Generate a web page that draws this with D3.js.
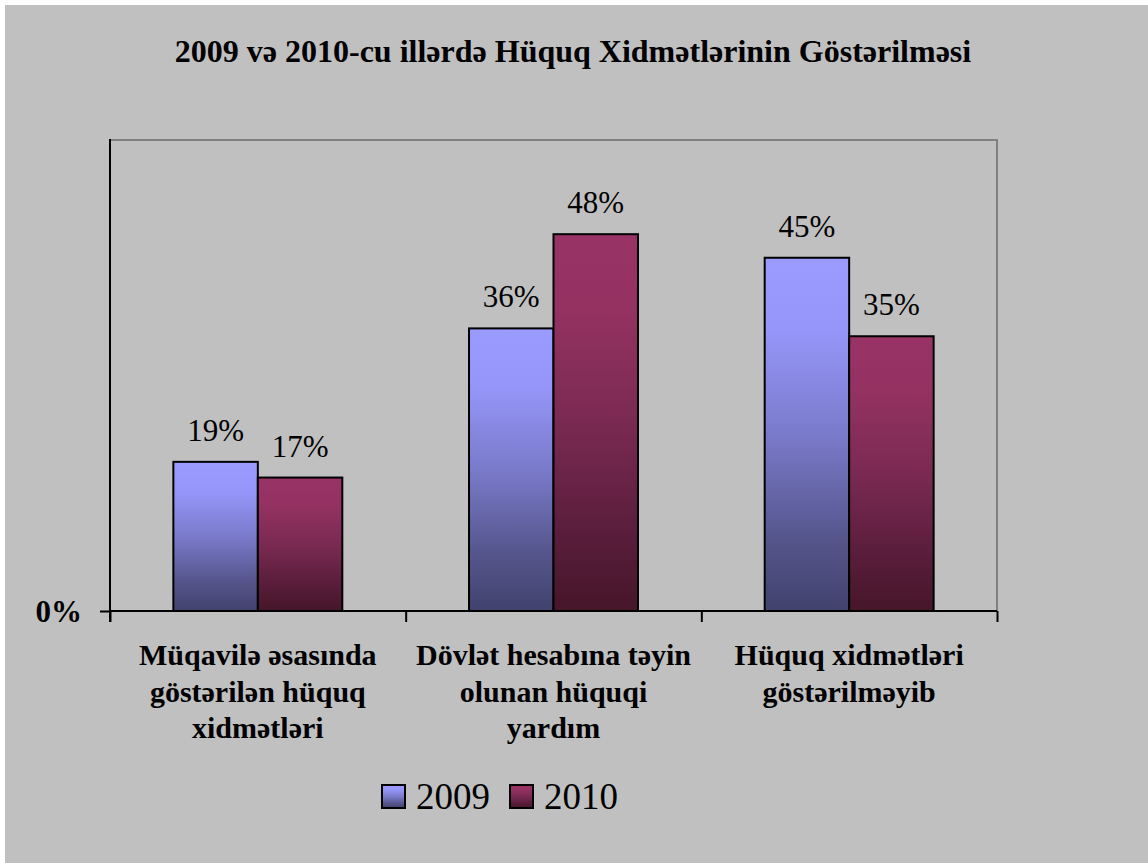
<!DOCTYPE html>
<html>
<head>
<meta charset="utf-8">
<script src="https://cdn.jsdelivr.net/npm/d3@7"></script>
<style>
  html, body { margin: 0; padding: 0; background: #ffffff; }
  svg { display: block; }
  svg text { font-family: "Liberation Serif", "Times New Roman", Tinos, serif; }
</style>
</head>
<body>
<script>
const title = "2009 və 2010-cu illərdə Hüquq Xidmətlərinin Göstərilməsi";
const categories = [
  ["Müqavilə əsasında", "göstərilən hüquq", "xidmətləri"],
  ["Dövlət hesabına təyin", "olunan hüquqi", "yardım"],
  ["Hüquq xidmətləri", "göstərilməyib"]
];
const seriesNames = ["2009", "2010"];
const values2009 = [0.19, 0.36, 0.45];
const values2010 = [0.17, 0.48, 0.35];
const yTickValues = [0];

(function () {
const W = 1148, H = 863;
const svg = d3.select("body").append("svg").attr("width", W).attr("height", H);

const defs = svg.append("defs");
function grad(id, stops) {
  const g = defs.append("linearGradient").attr("id", id)
    .attr("x1", 0).attr("y1", 0).attr("x2", 0).attr("y2", 1);
  stops.forEach(s => g.append("stop").attr("offset", s[0]).attr("stop-color", s[1]));
}
grad("g2009", [[0, "#9a9aff"], [0.2, "#9696fa"], [0.5, "#7a7acb"], [0.8, "#55558c"], [1, "#42426e"]]);
grad("g2010", [[0, "#993366"], [0.2, "#943262"], [0.5, "#7a2a52"], [0.8, "#591d3b"], [1, "#461629"]]);
const fills = ["url(#g2009)", "url(#g2010)"];

svg.append("rect").attr("x", 5).attr("y", 5).attr("width", W - 5).attr("height", H - 5).attr("fill", "#c0c0c0");

const pLeft = 110, pRight = 997, pTop = 140, pBottom = 611;
const catIdx = categories.map((c, i) => i);
const x0 = d3.scaleBand().domain(catIdx).range([pLeft, pRight]).paddingInner(0).paddingOuter(0);
const x1 = d3.scaleBand().domain(seriesNames).range([0, x0.bandwidth()]).paddingInner(0).paddingOuter(0.75);
const y = d3.scaleLinear().domain([0, 0.6]).range([pBottom, pTop]);

svg.append("path")
  .attr("d", `M${pLeft},${pTop}H${pRight}V${pBottom}`)
  .attr("fill", "none").attr("stroke", "#808080").attr("stroke-width", 2);

svg.append("text").attr("x", 573).attr("y", 62).attr("text-anchor", "middle")
  .style("font-weight", "bold").style("font-size", "32px").attr("fill", "#000")
  .text(title);

const data = catIdx.map(i => seriesNames.map((s, j) => ({ cat: i, s, j, v: j === 0 ? values2009[i] : values2010[i] })));
const groups = svg.append("g").selectAll("g").data(data).join("g")
  .attr("transform", (d, i) => `translate(${x0(i)},0)`);
groups.selectAll("rect").data(d => d).join("rect")
  .attr("x", d => x1(d.s))
  .attr("y", d => y(d.v))
  .attr("width", x1.bandwidth())
  .attr("height", d => y(0) - y(d.v))
  .attr("fill", d => fills[d.j])
  .attr("stroke", "#000").attr("stroke-width", 2);
groups.selectAll("text").data(d => d).join("text")
  .attr("x", d => x1(d.s) + x1.bandwidth() / 2)
  .attr("y", d => y(d.v) - 21)
  .attr("text-anchor", "middle")
  .style("font-size", "31px").attr("fill", "#000")
  .text(d => Math.round(d.v * 100) + "%");

const yAxis = d3.axisLeft(y).tickValues(yTickValues).tickFormat(d3.format(".0%")).tickSize(10).tickPadding(18);
const yg = svg.append("g").attr("transform", `translate(${pLeft},0)`).call(yAxis);
yg.attr("font-family", null).attr("font-size", null);
yg.select(".domain").attr("stroke", "#000").attr("stroke-width", 2).attr("d", `M0,${pTop - 1}V${pBottom + 11}`);
yg.selectAll(".tick line").attr("stroke", "#000").attr("stroke-width", 2);
yg.selectAll(".tick text")
  .style("font-weight", "bold").style("font-size", "31px").attr("fill", "#000").attr("dy", "0.35em");

const xEdges = d3.scaleLinear().domain([0, categories.length]).range([pLeft, pRight]);
const xAxis = d3.axisBottom(xEdges).tickValues(d3.range(categories.length + 1)).tickFormat("").tickSize(11);
const xg = svg.append("g").attr("transform", `translate(0,${pBottom})`).call(xAxis);
xg.select(".domain").attr("stroke", "#000").attr("stroke-width", 2).attr("d", `M${pLeft},0H${pRight}`);
xg.selectAll(".tick line").attr("stroke", "#000").attr("stroke-width", 2);

const catG = svg.append("g");
categories.forEach((lines, i) => {
  const cx = x0(i) + x0.bandwidth() / 2;
  const t = catG.append("text")
    .attr("x", cx).attr("y", 665)
    .attr("text-anchor", "middle")
    .style("font-weight", "bold").style("font-size", "30px").attr("fill", "#000");
  lines.forEach((ln, k) => {
    t.append("tspan").attr("x", cx).attr("y", 665 + k * 36.5).text(ln);
  });
});

const legX = [382, 510];
const lg = svg.append("g");
seriesNames.forEach((s, j) => {
  lg.append("rect").attr("x", legX[j]).attr("y", 785).attr("width", 23).attr("height", 23)
    .attr("fill", fills[j]).attr("stroke", "#000").attr("stroke-width", 2);
  lg.append("text").attr("x", legX[j] + 34).attr("y", 809)
    .style("font-size", "37px").attr("fill", "#000").text(s);
});
})();
</script>
</body>
</html>
